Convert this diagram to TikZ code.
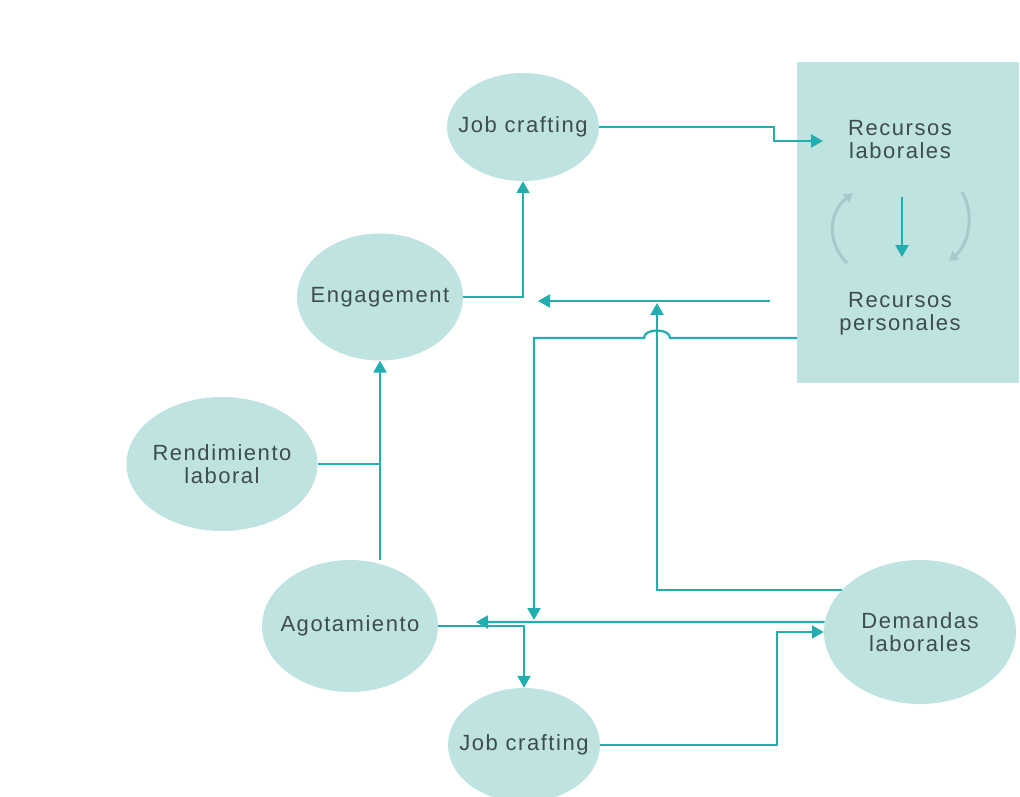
\documentclass[tikz,border=0pt]{standalone}
\usepackage{fontspec}
\setmainfont{Liberation Sans}[LetterSpace=7]
\usepackage{xcolor}
\usetikzlibrary{shapes.geometric,arrows.meta,positioning}

\definecolor{tealline}{HTML}{22ADAE}
\definecolor{tealfill}{HTML}{BEE3E1}
\definecolor{greyarc}{HTML}{A6CACA}
\definecolor{inkgrey}{HTML}{3E4C4C}

\begin{document}
\begin{tikzpicture}
		[x=1pt,y=-1pt,
		place/.style={ellipse,fill=tealfill,inner sep=0pt},
		words/.style={inner sep=0pt,text=inkgrey,align=center,font=\fontsize{22}{23}\selectfont},
		link/.style={draw=tealline,line width=2.2pt,-{Triangle[length=12pt,width=13pt]}},
		plain/.style={draw=tealline,line width=2.2pt},
		turn/.style={draw=greyarc,line width=3pt,-{Triangle[length=9pt,width=10pt]}}]
		\useasboundingbox (0,0) rectangle (1020,797);

		\node [fill=tealfill,minimum width=222pt,minimum height=321pt,inner sep=0pt] (panel) at (908,222.5) {};
		\node [words] (reclab) at (900,140) {Recursos\\laborales};
		\node [words] (recper) at (900,314) {Recursos\\personales};

		\node [place,minimum width=152pt,minimum height=108pt,label={[words]center:Job crafting}] (jctop) at (523,127) {};
		\node [place,minimum width=166pt,minimum height=127pt,label={[words]center:Engagement}] (eng) at (380,297) {};
		\node [place,minimum width=191pt,minimum height=134pt,label={[words]center:Rendimiento\\laboral}] (rend) at (222,464) {};
		\node [place,minimum width=176pt,minimum height=132pt,label={[words]center:Agotamiento}] (agot) at (350,626) {};
		\node [place,minimum width=152pt,minimum height=114pt,label={[words]center:Job crafting}] (jcbot) at (524,745) {};
		\node [place,minimum width=192pt,minimum height=144pt,label={[words]center:Demandas\\laborales}] (dem) at (920,632) {};

		\coordinate (rlin) at (823,141);
		\coordinate (rpout) at (770,301);
		\coordinate (engin) at (538,301);
		\coordinate (tipup) at (657,303);
		\coordinate (ppout) at (797,338);
		\coordinate (tipdown) at (534,620);
		\coordinate (agin) at (476,622);

		% inside the panel
		\draw [link] (902,197) -- (902,257);
		\draw [turn] (847,263) .. controls (826,242) and (829,212) .. (853,193);
		\draw [turn] (962,192) .. controls (975,214) and (969,244) .. (949,261);

		\draw [link] (jctop.east) -- ++(175,0) |- (rlin);
		\draw [link] (eng.east) -| (jctop.south);
		\draw [link] (rpout) -- (engin);
		\draw [link] (dem.152) -| (tipup);
		\draw [link] (ppout) -- (670,338) .. controls (670,328) and (644,328) .. (644,338) -- (534,338) -- (tipdown);
		\draw [link] (dem.174) -- (agin);
		\draw [link] (agot.east) -| (jcbot.north);
		\draw [link] (jcbot.east) -- ++(177,0) |- (dem.west);
		\draw [link] (agot.north -| eng.south) -- (eng.south);
		\draw [plain] (rend.east) -- (rend.east -| eng.south);

	\end{tikzpicture}
\end{document}
